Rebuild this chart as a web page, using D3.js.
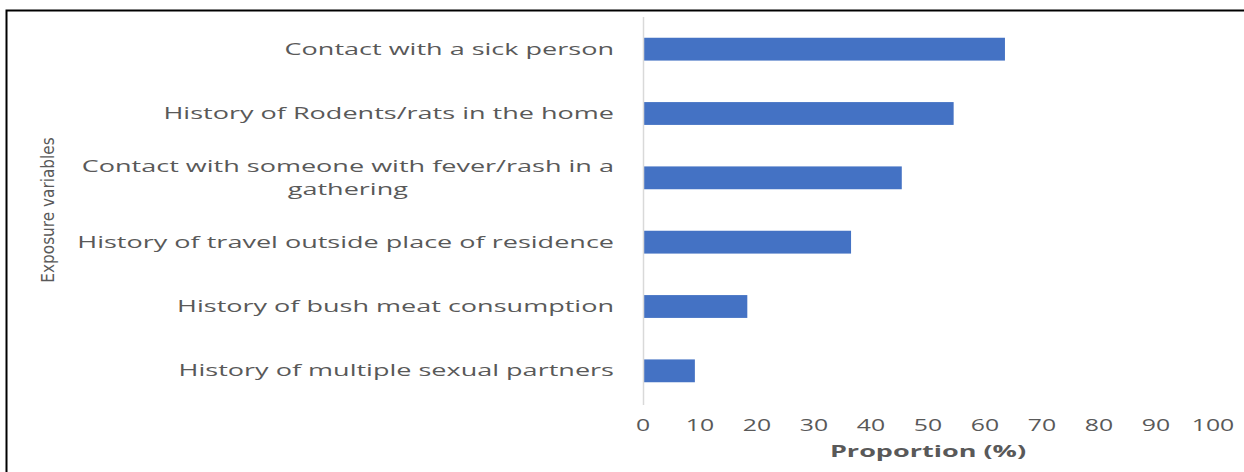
<!DOCTYPE html>
<html>
<head>
<meta charset="utf-8">
<script src="https://cdn.jsdelivr.net/npm/d3@7"></script>
<style>
  html, body { margin: 0; padding: 0; background: #fff; }
  svg { display: block; }
</style>
</head>
<body>
<div id="chart"></div>
<script>
// data
const categories = [
  'Contact with a sick person',
  'History of Rodents/rats in the home',
  'Contact with someone with fever/rash in a gathering',
  'History of travel outside place of residence',
  'History of bush meat consumption',
  'History of multiple sexual partners'
];
const proportions = [63.5, 54.5, 45.4, 36.5, 18.3, 9.1];
const xTicks = [0, 10, 20, 30, 40, 50, 60, 70, 80, 90, 100];
const xTitle = 'Proportion  (%)';
const yTitle = 'Exposure variables';

// wrapped lines for long labels
const labelLines = {
  'Contact with someone with fever/rash in a gathering': ['Contact with someone with fever/rash in a', 'gathering']
};

const width = 1244;
const height = 472;
const margin = { top: 17, right: 31, bottom: 69, left: 643 };
const textColor = '#595959';
const barColor = '#4472C4';
const fontFamily = '"Open Sans", "Noto Sans", sans-serif';
const stretch = 1.69; // the source picture is stretched horizontally
const tickStretch = 1.55;

const data = categories.map((c, i) => ({ category: c, value: proportions[i] }));

const svg = d3.select('#chart').append('svg')
  .attr('width', width)
  .attr('height', height);

// frame (only top and left edges show in the crop)
svg.append('path')
  .attr('d', `M6.5,${height} V10.5 H${width}`)
  .attr('fill', 'none')
  .attr('stroke', '#000')
  .attr('stroke-width', 2);

const xScale = d3.scaleLinear()
  .domain([0, 100])
  .range([margin.left, width - margin.right]);

const yScale = d3.scaleBand()
  .domain(categories)
  .range([margin.top, height - margin.bottom])
  .paddingInner(0.645)
  .paddingOuter(0.3225);

// bars
svg.append('g')
  .selectAll('rect')
  .data(data)
  .join('rect')
  .attr('x', xScale(0))
  .attr('y', d => yScale(d.category))
  .attr('width', d => xScale(d.value) - xScale(0))
  .attr('height', yScale.bandwidth())
  .attr('fill', barColor);

// vertical axis line
svg.append('line')
  .attr('x1', xScale(0) + 0.5)
  .attr('x2', xScale(0) + 0.5)
  .attr('y1', margin.top)
  .attr('y2', height - margin.bottom + 2)
  .attr('stroke', '#d9d9d9')
  .attr('stroke-width', 1.5);

// category labels
const labelGroup = svg.append('g');
data.forEach(d => {
  const lines = labelLines[d.category] || [d.category];
  const cy = yScale(d.category) + yScale.bandwidth() / 2;
  const lineH = 23;
  const g = labelGroup.append('g')
    .attr('transform', `translate(${xScale(0) - 29},0) scale(${stretch},1)`);
  const texts = lines.map((line, i) => g.append('text')
    .attr('y', cy + (i - (lines.length - 1) / 2) * lineH)
    .attr('dy', '0.35em')
    .attr('fill', textColor)
    .style('font-family', fontFamily)
    .style('font-size', '16px')
    .text(line));
  if (lines.length === 1) {
    texts[0].attr('text-anchor', 'end');
  } else {
    const w = d3.max(texts, t => t.node().getComputedTextLength());
    texts.forEach(t => t.attr('text-anchor', 'middle').attr('x', -w / 2));
  }
});

// x tick labels
svg.append('g')
  .selectAll('g')
  .data(xTicks)
  .join('g')
  .attr('transform', d => `translate(${xScale(d)},${height - 47}) scale(${tickStretch},1)`)
  .append('text')
  .attr('text-anchor', 'middle')
  .attr('dy', '0.35em')
  .attr('fill', textColor)
  .style('font-family', fontFamily)
  .style('font-size', '16px')
  .text(d => d);

// x axis title
svg.append('g')
  .attr('transform', `translate(${(xScale(0) + xScale(100)) / 2},${height - 21}) scale(${stretch},1)`)
  .append('text')
  .attr('text-anchor', 'middle')
  .attr('dy', '0.35em')
  .attr('fill', textColor)
  .style('font-family', fontFamily)
  .style('font-size', '16px')
  .style('font-weight', 'bold')
  .text(xTitle);

// y axis title
svg.append('text')
  .attr('transform', `translate(48,${(margin.top + height - margin.bottom) / 2}) rotate(-90)`)
  .attr('text-anchor', 'middle')
  .attr('dy', '0.35em')
  .attr('fill', textColor)
  .style('font-family', '"Liberation Sans Narrow", "DejaVu Sans Condensed", sans-serif')
  .style('font-size', '17px')
  .text(yTitle);
</script>
</body>
</html>
